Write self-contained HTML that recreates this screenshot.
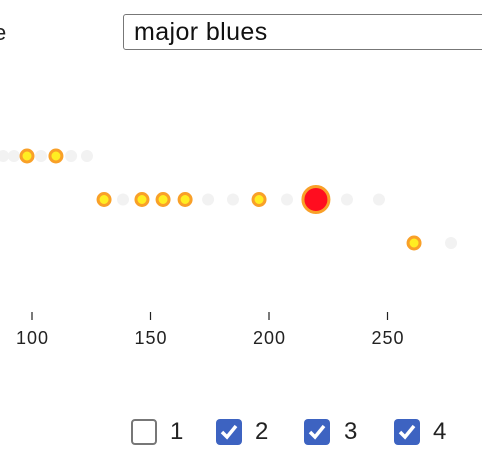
<!DOCTYPE html>
<html><head><meta charset="utf-8"><style>
body{margin:0;width:482px;height:470px;overflow:hidden;background:#fff;font-family:"Liberation Sans",sans-serif;position:relative}
.lbl{position:absolute;left:-6px;top:20px;font-size:22px;color:#222}
.inp{position:absolute;left:123px;top:14px;width:380px;height:36px;border:1px solid #777;border-radius:3px;box-sizing:border-box;font-size:25px;padding:3px 0 0 10px;color:#111;letter-spacing:0.4px}
.cb{position:absolute;top:419px;width:26px;height:26px;box-sizing:border-box;border-radius:4px}
.cb.off{border:2px solid #777;background:#fff}
.cb.on{background:#3d63c1}
.cbl{position:absolute;top:418px;font-size:24px;color:#222}
</style></head><body>
<div class="lbl">e</div>
<div class="inp">major blues</div>
<svg id="chart" width="482" height="400" style="position:absolute;left:0;top:0"></svg>
<div class="cb off" style="left:131px"></div><div class="cbl" style="left:170px">1</div>
<div class="cb on" style="left:216px"><svg width="26" height="26"><path d="M6 13 L11 18 L20 7" stroke="#fff" stroke-width="3.5" fill="none"/></svg></div><div class="cbl" style="left:255px">2</div>
<div class="cb on" style="left:304px"><svg width="26" height="26"><path d="M6 13 L11 18 L20 7" stroke="#fff" stroke-width="3.5" fill="none"/></svg></div><div class="cbl" style="left:344px">3</div>
<div class="cb on" style="left:394px"><svg width="26" height="26"><path d="M6 13 L11 18 L20 7" stroke="#fff" stroke-width="3.5" fill="none"/></svg></div><div class="cbl" style="left:433px">4</div>
<script>
const row1Values=[87.8,92.4,97.9,103.8,110.1,116.5,123.2];
const row1On=[0,0,1,0,1,0,0];
const row2Values=[130.4,138.4,146.4,155.3,164.6,174.3,184.8,195.8,207.6,219.8,232.9,246.4];
const row2On=[1,0,1,1,1,0,0,1,0,2,0,0];
const row3Values=[261.2,276.8];
const row3On=[1,0];
const tickValues=[100,150,200,250];
const rows=[[row1Values,row1On,0],[row2Values,row2On,1],[row3Values,row3On,2]];
const NS="http://www.w3.org/2000/svg";
const svg=document.getElementById('chart');
function xs(v){return 32+(v-100)*2.37;}
function ys(r){return 156+r*43.5;}
rows.forEach(([vals,on,r])=>{
  vals.forEach((v,i)=>{
    const c=document.createElementNS(NS,'circle');
    
    
    c.setAttribute('cx',xs(v));c.setAttribute('cy',ys(r));
    if(on[i]===0){c.setAttribute('r',6);c.setAttribute('fill','#f2f2f2');}
    else if(on[i]===1){c.setAttribute('r',6);c.setAttribute('fill','#ffee22');c.setAttribute('stroke','#f9a028');c.setAttribute('stroke-width',3);}
    else{c.setAttribute('r',13);c.setAttribute('fill','#ff0d1f');c.setAttribute('stroke','#f9a028');c.setAttribute('stroke-width',3);}
    svg.appendChild(c);
  });
});
tickValues.forEach(t=>{
  const l=document.createElementNS(NS,'line');
  
  
  l.setAttribute('x1',xs(t));l.setAttribute('x2',xs(t));l.setAttribute('y1',312);l.setAttribute('y2',320);
  l.setAttribute('stroke','#222');l.setAttribute('stroke-width',1.2);
  svg.appendChild(l);
  const tx=document.createElementNS(NS,'text');
  
  
  tx.setAttribute('x',xs(t)+0.5);tx.setAttribute('y',344);tx.setAttribute('text-anchor','middle');
  tx.setAttribute('font-size','18');tx.setAttribute('letter-spacing','1');tx.setAttribute('fill','#222');tx.setAttribute('font-family','Liberation Sans, sans-serif');
  tx.textContent=t;svg.appendChild(tx);
});
</script>
</body></html>
